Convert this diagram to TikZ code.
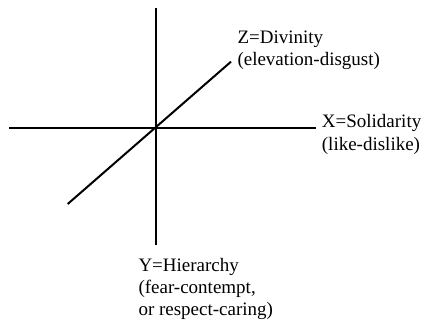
\documentclass[tikz,border=0pt]{standalone}
\usepackage{fontspec}
\setmainfont{Liberation Serif}
\begin{document}
\begin{tikzpicture}[x=1pt,y=-1pt,
  axis/.style={line width=2pt},
  lab/.style={anchor=base west,inner sep=0pt,font=\fontsize{19}{22}\selectfont}]
\useasboundingbox (0,0) rectangle (424,324);
\coordinate (o) at (155.7,128);
\coordinate (top) at (155.7,8);
\coordinate (bot) at (155.7,245);
\coordinate (left) at (9,128);
\coordinate (right) at (316,128);
\coordinate (zlo) at (67.7,204);
\coordinate (zhi) at (231,61.7);
\draw[axis] (top) -- (bot);
\draw[axis] (left) -- (right);
\draw[axis] (zlo) -- (zhi);
\node[lab] (z1) at (237.3,43.3) {Z=Divinity};
\node[lab] (z2) at (237.3,65.5) {(elevation-disgust)};
\node[lab] (x1) at (321.7,128) {X=Solidarity};
\node[lab] (x2) at (321.7,150) {(like-dislike)};
\node[lab] (y1) at (138.3,271.7) {Y=Hierarchy};
\node[lab] (y2) at (138.3,293.5) {(fear-contempt,};
\node[lab] (y3) at (138.3,315.3) {or respect-caring)};
\end{tikzpicture}
\end{document}
